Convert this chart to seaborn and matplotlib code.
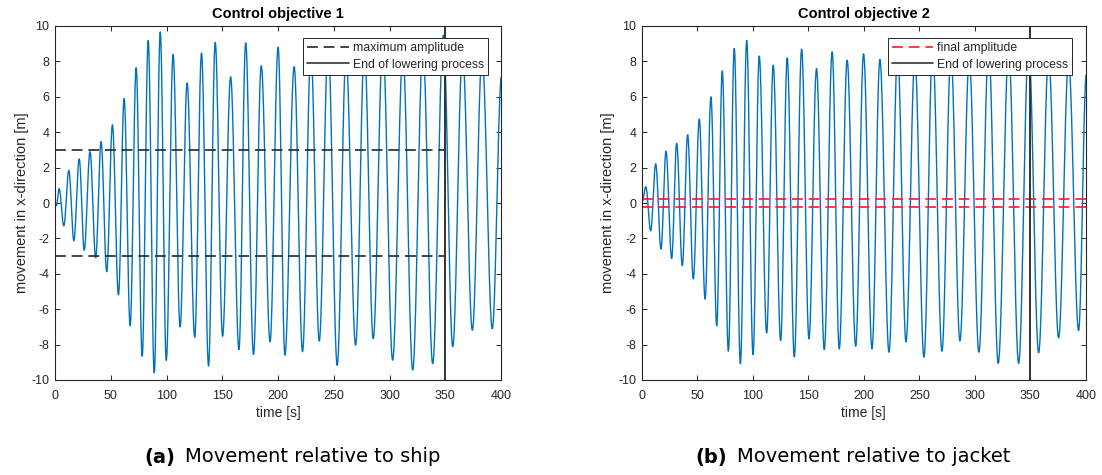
import numpy as np
import pandas as pd
import matplotlib
matplotlib.use("Agg")
import matplotlib.pyplot as plt
from matplotlib.lines import Line2D
from matplotlib.offsetbox import TextArea, HPacker, AnnotationBbox
import seaborn as sns

# ---- data -------------------------------------------------------------
# Load movement relative to the ship (control objective 1): turning points
ship_start = (0.0, 0.05)
ship_peak_t = [3.7, 12.4, 21.7, 31.4, 41.3, 51.5, 62.0, 72.8, 83.6, 94.4,
               105.9, 118.5, 131.4, 143.7, 157.5, 171.0, 185.0, 200.1, 214.5, 229.5,
               245.0, 261.0, 277.5, 294.0, 312.0, 330.0, 348.3, 365.5, 383.0, 400.5]
ship_peak_v = [0.81, 1.84, 2.49, 2.90, 3.47, 4.42, 5.90, 7.64, 9.18, 9.66,
               8.39, 6.78, 8.47, 9.07, 7.13, 9.05, 7.75, 8.80, 7.70, 8.60,
               8.90, 8.30, 8.70, 9.00, 8.40, 8.80, 9.48, 8.50, 8.30, 7.20]
ship_trough_t = [1.2, 7.9, 16.9, 26.2, 36.5, 46.4, 56.9, 67.4, 78.2, 89.0,
                 99.8, 112.2, 125.3, 137.7, 150.3, 165.0, 178.0, 192.9, 206.2, 222.0,
                 237.0, 253.1, 269.6, 285.4, 302.8, 320.8, 338.7, 356.7, 374.3, 392.2]
ship_trough_v = [-0.15, -1.29, -2.13, -2.66, -3.09, -3.88, -5.19, -6.93, -8.65, -9.59,
                 -8.89, -7.00, -7.58, -9.21, -7.53, -8.28, -8.56, -7.84, -8.60, -8.40,
                 -7.80, -9.17, -8.03, -7.66, -8.88, -9.44, -9.08, -8.12, -7.19, -7.10]

# Load movement relative to the jacket (control objective 2): turning points
jacket_start = (0.0, 0.0)
jacket_peak_t = [3.6, 12.5, 21.8, 31.4, 41.3, 51.8, 62.3, 72.5, 83.3, 94.5,
                 105.8, 118.4, 131.0, 144.0, 157.4, 171.5, 185.0, 199.8, 214.5, 230.5,
                 246.0, 262.0, 278.5, 295.0, 312.5, 330.5, 348.5, 366.5, 384.5, 400.5]
jacket_peak_v = [0.92, 2.21, 2.92, 3.37, 3.86, 4.74, 6.00, 7.46, 8.73, 9.18,
                 8.30, 7.78, 8.20, 8.69, 7.60, 8.54, 8.07, 8.43, 8.11, 8.50,
                 8.20, 8.70, 8.40, 8.10, 8.80, 8.60, 8.90, 8.30, 8.00, 7.30]
jacket_trough_t = [8.0, 17.3, 26.9, 36.5, 46.4, 57.0, 67.5, 78.0, 88.8, 100.2,
                   112.5, 125.1, 137.4, 150.6, 164.4, 177.9, 192.7, 207.4, 222.7, 238.0,
                   254.2, 270.4, 286.6, 303.7, 321.1, 339.5, 357.5, 375.5, 393.5]
jacket_trough_v = [-1.57, -2.60, -3.13, -3.54, -4.29, -5.43, -6.93, -8.37, -9.08, -8.56,
                   -7.34, -7.77, -8.69, -7.67, -8.28, -8.24, -8.09, -8.24, -8.43, -7.84,
                   -8.71, -8.37, -7.79, -8.43, -9.06, -9.06, -8.46, -7.62, -7.21]

max_amplitude = [3.0, -3.0]
final_amplitude = [0.25, -0.2]
lowering_end = 350.0

titles = ["Control objective 1", "Control objective 2"]
captions = [("(a)", "Movement relative to ship"), ("(b)", "Movement relative to jacket")]
amp_labels = ["maximum amplitude", "final amplitude"]
end_label = "End of lowering process"
x_ticks = [0, 50, 100, 150, 200, 250, 300, 350, 400]
y_ticks = [-10, -8, -6, -4, -2, 0, 2, 4, 6, 8, 10]


def swing_curve(start, pt, pv, tt, tv, n=40):
    """Smooth half-cosine swing between successive turning points."""
    pts = sorted([start] + list(zip(pt, pv)) + list(zip(tt, tv)))
    ts, vs = [], []
    for (t0, v0), (t1, v1) in zip(pts[:-1], pts[1:]):
        s = np.linspace(0, 1, n, endpoint=False)
        ts.append(t0 + (t1 - t0) * s)
        vs.append(v0 + (v1 - v0) * (1 - np.cos(np.pi * s)) / 2)
    ts.append([pts[-1][0]])
    vs.append([pts[-1][1]])
    return pd.DataFrame({"time": np.concatenate(ts), "x": np.concatenate(vs)})


ship = swing_curve(ship_start, ship_peak_t, ship_peak_v, ship_trough_t, ship_trough_v)
jacket = swing_curve(jacket_start, jacket_peak_t, jacket_peak_v, jacket_trough_t, jacket_trough_v)

# ---- style -------------------------------------------------------------
sns.set_theme(style="white")
plt.rcParams["font.family"] = ["Liberation Sans", "DejaVu Sans"]
plt.rcParams["axes.unicode_minus"] = False
axis_col = "#262626"
blue = "#0072BD"

fig = plt.figure(figsize=(11.02, 4.75), dpi=100)
ax_a = fig.add_axes([55 / 1102, 1 - 380 / 475, 446 / 1102, 354 / 475])
ax_b = fig.add_axes([641.8 / 1102, 1 - 380 / 475, 444 / 1102, 354 / 475])

panels = [
    (ax_a, ship, max_amplitude, "#262626", amp_labels[0], True),
    (ax_b, jacket, final_amplitude, "#FF1A1A", amp_labels[1], False),
]

for i, (ax, df, amps, amp_col, amp_lab, stop_at_end) in enumerate(panels):
    sns.lineplot(data=df, x="time", y="x", ax=ax, color=blue, lw=1.0,
                 sort=False, estimator=None)
    xmax = lowering_end if stop_at_end else x_ticks[-1]
    for a in amps:
        ax.hlines(a, x_ticks[0], xmax, colors=amp_col, linestyles=(0, (6.5, 3.5)), lw=1.2)
    ax.axvline(lowering_end, color="#333333", lw=1.4)

    ax.set_xlim(x_ticks[0], x_ticks[-1])
    ax.set_ylim(y_ticks[0], y_ticks[-1])
    ax.set_xticks(x_ticks)
    ax.set_yticks(y_ticks)
    ax.set_xlabel("time [s]", fontsize=10, color=axis_col, labelpad=3)
    ax.set_ylabel("movement in x-direction [m]", fontsize=10.5, color=axis_col, labelpad=2)
    ax.set_title(titles[i], fontsize=10.5, fontweight="bold", color="black", pad=6)
    ax.tick_params(direction="in", length=3.5, width=0.7, colors=axis_col,
                   labelsize=9, top=True, right=True, bottom=True, left=True, pad=4)
    ax.tick_params(axis="x", pad=7)
    for sp in ax.spines.values():
        sp.set_color(axis_col)
        sp.set_linewidth(0.8)

    handles = [
        Line2D([], [], color=amp_col, lw=1.2, linestyle=(0, (6.5, 3.5))),
        Line2D([], [], color="#333333", lw=1.2),
    ]
    leg = ax.legend(handles, [amp_lab, end_label], loc="upper right",
                    bbox_to_anchor=(0.971 if i == 0 else 0.97, 0.966),
                    borderaxespad=0, fontsize=8.8, handlelength=3.4,
                    handletextpad=0.3, labelspacing=0.35, borderpad=0.35,
                    fancybox=False, framealpha=1, edgecolor=axis_col)
    leg.get_frame().set_linewidth(0.7)

# captions under the panels
for (tag, text), xc in zip(captions, [292, 853]):
    box = HPacker(children=[
        TextArea(tag, textprops=dict(fontsize=14, fontweight="bold", family="DejaVu Sans", color="black")),
        TextArea(text, textprops=dict(fontsize=14, family="DejaVu Sans", color="black")),
    ], align="baseline", pad=0, sep=7)
    ab = AnnotationBbox(box, (xc / 1102, 1 - 457 / 475), xycoords="figure fraction",
                        box_alignment=(0.5, 0.5), frameon=False)
    fig.add_artist(ab)

fig.savefig("out.png", dpi=100, facecolor="white")
